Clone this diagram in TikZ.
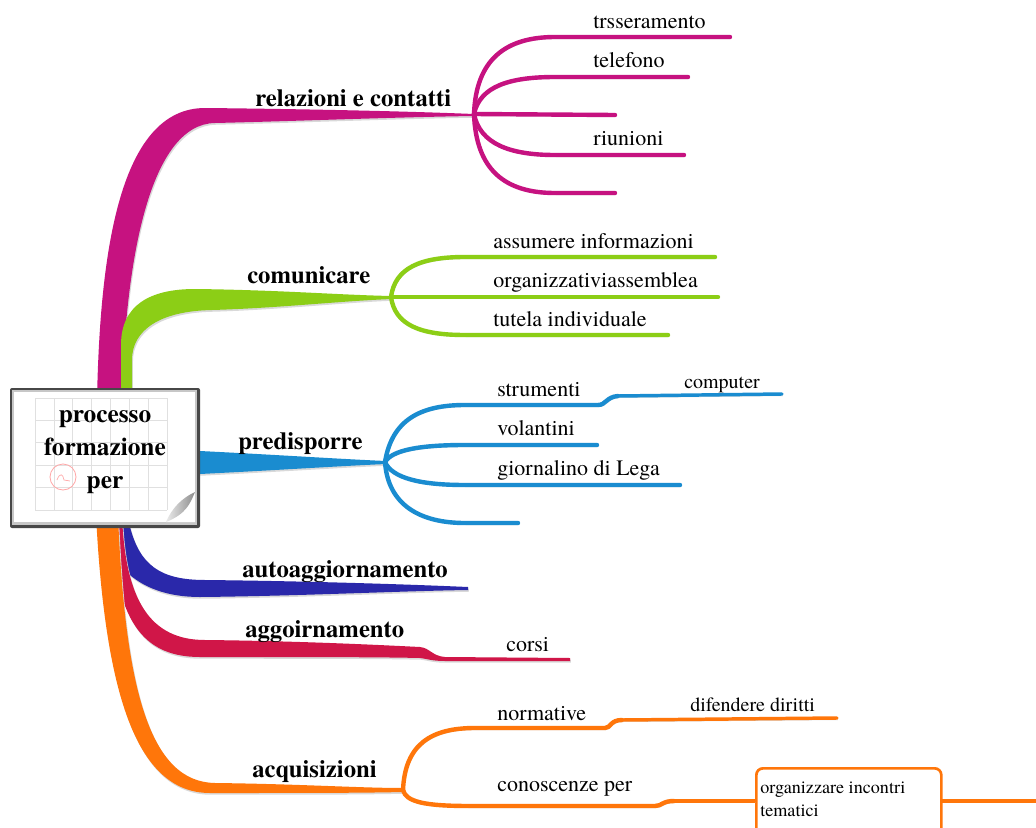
\documentclass[tikz,border=0pt]{standalone}
\usepackage{fontspec}
\setmainfont{texgyretermes}[Extension=.otf,UprightFont=*-regular,BoldFont=*-bold,ItalicFont=*-italic,BoldItalicFont=*-bolditalic]
\definecolor{cMag}{RGB}{198,18,128}
\definecolor{cGreen}{RGB}{140,206,22}
\definecolor{cBlue}{RGB}{26,140,208}
\definecolor{cNavy}{RGB}{42,40,170}
\definecolor{cRed}{RGB}{208,22,72}
\definecolor{cOrange}{RGB}{255,118,10}
\begin{document}
\begin{tikzpicture}[x=0.75pt,y=-0.75pt,
  shadowed/.style={preaction={draw=black!18,transform canvas={shift={(0.7pt,-1.3pt)}}}},
  sub/.style={line width=3.3pt,line cap=round,shadowed},
  thinsub/.style={line width=2.6pt,line cap=round,shadowed},
  trunk/.style={preaction={fill=black!15,transform canvas={shift={(0.7pt,-1.3pt)}}}},
  mainlab/.style={font=\bfseries\fontsize{18.5}{20}\selectfont,inner sep=0pt,anchor=base west},
  leaf/.style={font=\fontsize{16.5}{18}\selectfont,inner sep=0pt,anchor=base west},
  smalleaf/.style={font=\fontsize{15}{17}\selectfont,inner sep=0pt,anchor=base west}]
\useasboundingbox (0,0) rectangle (1036,828);
\fill[white] (0,0) rectangle (1036,828);

% fork points
\coordinate (f1) at (474,114);
\coordinate (f2) at (391,297);
\coordinate (f3) at (385,462);
\coordinate (f4) at (403,790);

% ---------- magenta trunk ----------
\fill[cMag,trunk] (97,400) .. controls (100,250) and (120,108) .. (205,108)
  .. controls (300,109) and (400,111) .. (f1) -- (474,116)
  .. controls (400,117) and (300,121) .. (215,123) .. controls (150,124) and (125,260) .. (122,400)
  -- cycle;
% ---------- green trunk ----------
\fill[cGreen,trunk] (121,400) -- (121,345) .. controls (121,305) and (150,289) .. (195,289)
  .. controls (280,290) and (340,295) .. (392,296) -- (392,299)
  .. controls (340,301) and (280,308) .. (212,310) .. controls (160,311) and (132,330) .. (132,360)
  -- (132,400) -- cycle;
% ---------- blue trunk ----------
\fill[cBlue,trunk] (190,451) -- (200,451) .. controls (280,455) and (340,459) .. (386,461)
  -- (386,464) .. controls (340,466) and (280,470) .. (200,474) -- (190,474) -- cycle;
% ---------- navy trunk ----------
\fill[cNavy,trunk] (128,515) -- (130,527) .. controls (140,565) and (160,580) .. (205,580)
  .. controls (300,581) and (400,584) .. (468,587) -- (468,590)
  .. controls (400,591) and (300,596) .. (200,597) .. controls (135,597) and (105,560) .. (100,515) -- cycle;
% ---------- red trunk ----------
\fill[cRed,trunk] (122,515) .. controls (125,600) and (150,640) .. (205,640)
  .. controls (300,641) and (380,645) .. (420,647) .. controls (430,648) and (432,656) .. (445,657)
  -- (570,658) -- (570,661) -- (445,661) .. controls (432,661) and (428,659) .. (420,658)
  .. controls (380,657) and (300,657) .. (200,657) .. controls (135,657) and (115,610) .. (110,515) -- cycle;
% ---------- orange trunk ----------
\fill[cOrange,trunk] (96,515) .. controls (105,690) and (135,793) .. (210,793)
  .. controls (300,793) and (360,793) .. (403,792) -- (403,788)
  .. controls (360,788) and (300,784) .. (215,783) .. controls (150,782) and (125,690) .. (118,515) -- cycle;

% ---------- magenta sub branches ----------
\draw[sub,cMag] (f1) .. controls (476,60) and (505,37) .. (555,37) -- (730,37);
\draw[sub,cMag] (f1) .. controls (480,86) and (510,77) .. (555,77) -- (688,77);
\draw[sub,cMag] (f1) -- (615,115);
\draw[sub,cMag] (f1) .. controls (480,144) and (510,155) .. (555,155) -- (684,155);
\draw[sub,cMag] (f1) .. controls (476,170) and (505,193) .. (555,193) -- (615,193);

% ---------- green sub branches ----------
\draw[sub,cGreen] (f2) .. controls (395,268) and (420,257) .. (465,257) -- (715,257);
\draw[sub,cGreen] (f2) -- (718,297);
\draw[sub,cGreen] (f2) .. controls (395,325) and (420,335) .. (465,335) -- (668,335);

% ---------- blue sub branches ----------
\draw[sub,cBlue] (f3) .. controls (392,420) and (420,405) .. (465,405) -- (598,405)
  .. controls (606,405) and (606,397) .. (618,396);
\draw[thinsub,cBlue] (618,396) -- (782,394);
\draw[sub,cBlue] (f3) .. controls (392,450) and (420,445) .. (465,445) -- (597,445);
\draw[sub,cBlue] (f3) .. controls (392,478) and (420,485) .. (465,485) -- (680,485);
\draw[sub,cBlue] (f3) .. controls (388,505) and (420,523) .. (465,523) -- (518,523);

% ---------- orange sub branches ----------
\draw[sub,cOrange] (f4) .. controls (405,745) and (430,728) .. (475,728) -- (605,728)
  .. controls (611,728) and (610,720) .. (622,720);
\draw[thinsub,cOrange] (622,720) -- (837,718);
\draw[sub,cOrange] (f4) .. controls (406,802) and (425,806) .. (470,806) -- (655,806)
  .. controls (662,806) and (662,801) .. (674,801);
\node[draw=cOrange,line width=2pt,rounded corners=5pt,fill=white,minimum width=138.75pt,
  minimum height=50pt,anchor=north west,inner sep=0pt] (tbox) at (755,767) {};
\draw[thinsub,cOrange] (674,801) -- (tbox.west |- 0,801);
\draw[thinsub,cOrange] (tbox.east |- 0,801) -- (1040,801);
\node[font=\fontsize{13.6}{17}\selectfont,inner sep=0pt,anchor=base west] (tb1) at (760,793) {organizzare incontri};
\node[font=\fontsize{13.6}{17}\selectfont,inner sep=0pt,anchor=base west] (tb2) at (760,816) {tematici};

% ---------- main labels ----------
\node[mainlab] (lrel) at (255,106) {relazioni e contatti};
\node[mainlab] (lcom) at (247,283) {comunicare};
\node[mainlab] (lpre) at (238,449) {predisporre};
\node[mainlab] (laut) at (242,577) {autoaggiornamento};
\node[mainlab] (lagg) at (245,637) {aggoirnamento};
\node[mainlab] (lacq) at (252,777) {acquisizioni};

% ---------- leaf labels ----------
\node[leaf] (t1) at (593,28) {trsseramento};
\node[leaf] (t2) at (593,67) {telefono};
\node[leaf] (t3) at (593,145) {riunioni};
\node[leaf] (g1) at (493,248) {assumere informazioni};
\node[leaf] (g2) at (493,287) {organizzativiassemblea};
\node[leaf] (g3) at (493,326) {tutela individuale};
\node[leaf] (b1) at (497,396) {strumenti};
\node[smalleaf] (b1a) at (684,388) {computer};
\node[leaf] (b2) at (497,435) {volantini};
\node[leaf] (b3) at (497,475) {giornalino di Lega};
\node[leaf] (r1) at (506,651) {corsi};
\node[leaf] (o1) at (497,720) {normative};
\node[smalleaf] (o1a) at (690,711) {difendere diritti};
\node[leaf] (o2) at (497,791) {conoscenze per};

% ---------- central node ----------
\fill[black!72,rounded corners=1.5pt] (10,388) rectangle (200,528);
\fill[black!22] (12,390) rectangle (197,525);
\fill[white] (14,392) rectangle (195,522);
\foreach \gx in {35,53.9,72.8,91.7,110.6,129.5,148.4,167.3}
  \draw[black!12,line width=0.6pt] (\gx,398) -- (\gx,510);
\foreach \gy in {398,420.4,442.8,465.2,487.6,510}
  \draw[black!12,line width=0.6pt] (35,\gy) -- (167.3,\gy);
\draw[red!35,line width=0.6pt] (63,477) circle (13);
\draw[red!35,line width=0.5pt] (57,480) .. controls (60,472) and (63,474) .. (64,480) -- (70,481);
\fill[white] (166,522) -- (195,522) -- (195,492) -- cycle;
\shade[left color=black!8,right color=black!45] (166,522) .. controls (172,508) and (182,498) .. (195,492)
  .. controls (190,504) and (186,514) .. (166,522) -- cycle;
\node[align=center,font=\bfseries\fontsize{19}{24.75}\selectfont,inner sep=0pt] (center) at (105,452)
  {processo\\formazione\\per};
\end{tikzpicture}
\end{document}
